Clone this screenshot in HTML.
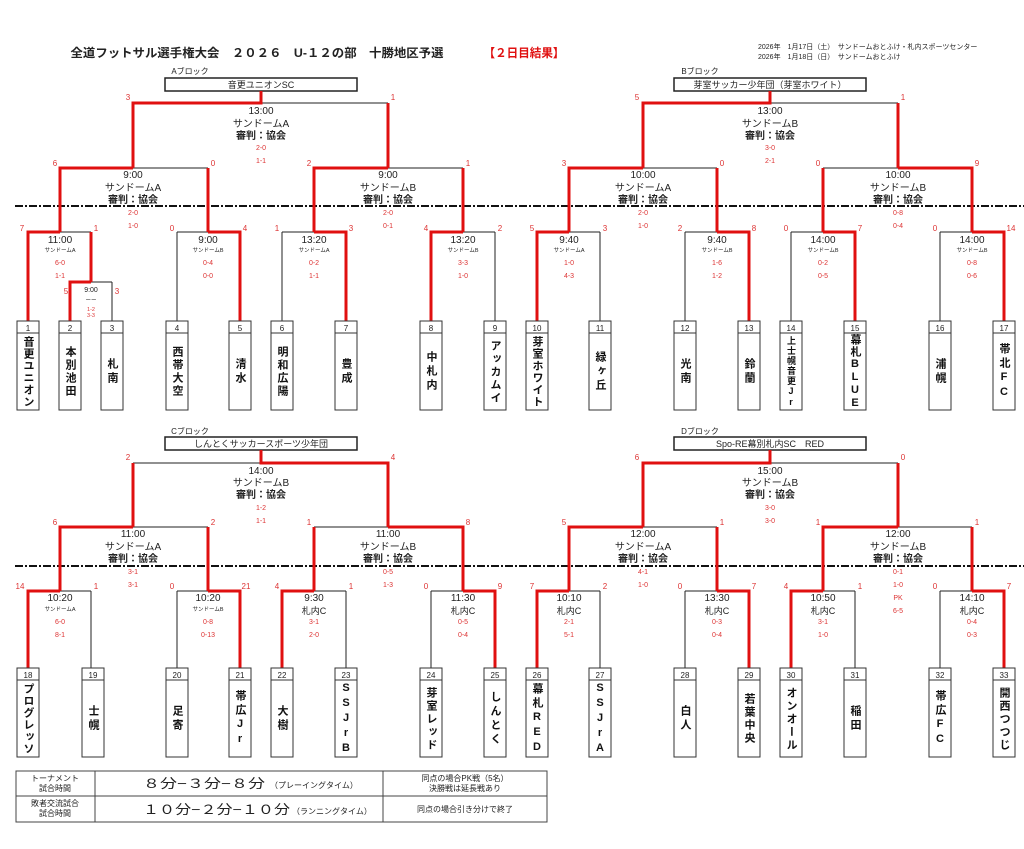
<!DOCTYPE html>
<html><head><meta charset="utf-8"><style>
body{margin:0;background:#fff;width:1024px;height:849px;overflow:hidden;position:relative;font-family:"Liberation Sans","Noto Sans CJK JP",sans-serif}
svg{position:absolute;left:0;top:0}
svg text{font-family:"Liberation Sans","Noto Sans CJK JP",sans-serif;text-anchor:middle;fill:#222}
.t{font-size:10px}
.j{font-size:10px;font-weight:bold}
.s{font-size:7px;fill:#d33 !important}
.l{font-size:8px;fill:#d33 !important}
.v{font-size:5.5px}
.c{font-size:9px}
.n{font-size:8px}
.k{stroke:#222;stroke-width:1;fill:none}
.r{stroke:#e01010;stroke-width:3;fill:none}
.nm{position:absolute;width:22px;height:76px;writing-mode:vertical-rl;text-orientation:upright;text-align:center;line-height:22px;font-size:11px;font-weight:bold;letter-spacing:3px;color:#111;font-family:"Liberation Sans","Noto Sans CJK JP",sans-serif}
</style></head><body>
<svg width="1024" height="849" viewBox="0 0 1024 849">
<text x="257" y="57" style="font-size:12px;font-weight:bold" textLength="373" lengthAdjust="spacingAndGlyphs">全道フットサル選手権大会　２０２６　U-１２の部　十勝地区予選</text>
<text x="524" y="57" style="font-size:12px;font-weight:bold;fill:#e01010" textLength="81" lengthAdjust="spacingAndGlyphs">【２日目結果】</text>
<text x="758" y="49" style="font-size:7px;text-anchor:start">2026年　1月17日（土）　サンドームおとふけ・札内スポーツセンター</text>
<text x="758" y="59" style="font-size:7px;text-anchor:start">2026年　1月18日（日）　サンドームおとふけ</text>

<line x1="15" y1="206" x2="1024" y2="206" stroke="#111" stroke-width="2" stroke-dasharray="8,2,2,2"/>
<line x1="15" y1="566" x2="1024" y2="566" stroke="#111" stroke-width="2" stroke-dasharray="8,2,2,2"/>

<!-- ===== Block A ===== -->
<text x="190" y="74" class="n">Aブロック</text>
<rect x="165" y="78" width="192" height="13" fill="none" stroke="#222" stroke-width="1.5"/>
<text x="261" y="88" class="c">音更ユニオンSC</text>
<path class="k" d="M133,103H388 M60,168H208 M314,168H463 M28,232H91 M177,232H240 M282,232H346 M431,232H495 M70,282H112 M112,282V321 M177,232V321 M282,232V321 M495,232V321"/>
<path class="r" d="M261,91V103H133V168 M388,103V168 M133,168H60V232 M208,168V232 M60,232H28V321 M91,232V282 M91,282H70V321 M208,232H240V321 M388,168H314V232 M463,168V232 M314,232H346V321 M463,232H431V321"/>
<text x="128" y="100" class="l">3</text><text x="393" y="100" class="l">1</text>
<text x="261" y="114" class="t">13:00</text><text x="261" y="127" class="t">サンドームA</text><text x="261" y="139" class="j">審判：協会</text><text x="261" y="150" class="s">2-0</text><text x="261" y="163" class="s">1-1</text>
<text x="55" y="166" class="l">6</text><text x="213" y="166" class="l">0</text><text x="309" y="166" class="l">2</text><text x="468" y="166" class="l">1</text>
<text x="133" y="178" class="t">9:00</text><text x="133" y="191" class="t">サンドームA</text><text x="133" y="203" class="j">審判：協会</text><text x="133" y="215" class="s">2-0</text><text x="133" y="228" class="s">1-0</text>
<text x="388" y="178" class="t">9:00</text><text x="388" y="191" class="t">サンドームB</text><text x="388" y="203" class="j">審判：協会</text><text x="388" y="215" class="s">2-0</text><text x="388" y="228" class="s">0-1</text>
<text x="22" y="231" class="l">7</text><text x="96" y="231" class="l">1</text><text x="172" y="231" class="l">0</text><text x="245" y="231" class="l">4</text><text x="277" y="231" class="l">1</text><text x="351" y="231" class="l">3</text><text x="426" y="231" class="l">4</text><text x="500" y="231" class="l">2</text>
<text x="60" y="243" class="t">11:00</text><text x="60" y="252" class="v">サンドームA</text><text x="60" y="265" class="s">6-0</text><text x="60" y="278" class="s">1-1</text>
<text x="208" y="243" class="t">9:00</text><text x="208" y="252" class="v">サンドームB</text><text x="208" y="265" class="s">0-4</text><text x="208" y="278" class="s">0-0</text>
<text x="314" y="243" class="t">13:20</text><text x="314" y="252" class="v">サンドームA</text><text x="314" y="265" class="s">0-2</text><text x="314" y="278" class="s">1-1</text>
<text x="463" y="243" class="t">13:20</text><text x="463" y="252" class="v">サンドームB</text><text x="463" y="265" class="s">3-3</text><text x="463" y="278" class="s">1-0</text>
<text x="66" y="294" class="l">5</text><text x="117" y="294" class="l">3</text>
<text x="91" y="292" style="font-size:7px">9:00</text><text x="91" y="302" class="v">ーー</text><text x="91" y="311" class="v" style="fill:#d33">1-2</text><text x="91" y="317" class="v" style="fill:#d33">3-3</text>

<!-- ===== Block B ===== -->
<text x="700" y="74" class="n">Bブロック</text>
<rect x="674" y="78" width="192" height="13" fill="none" stroke="#222" stroke-width="1.5"/>
<text x="770" y="88" class="c">芽室サッカー少年団（芽室ホワイト）</text>
<path class="k" d="M643,103H898 M569,168H717 M823,168H972 M537,232H600 M685,232H749 M791,232H855 M940,232H1004 M600,232V321 M685,232V321 M791,232V321 M940,232V321"/>
<path class="r" d="M770,91V103H643V168 M898,103V168 M643,168H569V232 M717,168V232 M569,232H537V321 M717,232H749V321 M898,168H972V232 M823,168V232 M823,232H855V321 M972,232H1004V321"/>
<text x="637" y="100" class="l">5</text><text x="903" y="100" class="l">1</text>
<text x="770" y="114" class="t">13:00</text><text x="770" y="127" class="t">サンドームB</text><text x="770" y="139" class="j">審判：協会</text><text x="770" y="150" class="s">3-0</text><text x="770" y="163" class="s">2-1</text>
<text x="564" y="166" class="l">3</text><text x="722" y="166" class="l">0</text><text x="818" y="166" class="l">0</text><text x="977" y="166" class="l">9</text>
<text x="643" y="178" class="t">10:00</text><text x="643" y="191" class="t">サンドームA</text><text x="643" y="203" class="j">審判：協会</text><text x="643" y="215" class="s">2-0</text><text x="643" y="228" class="s">1-0</text>
<text x="898" y="178" class="t">10:00</text><text x="898" y="191" class="t">サンドームB</text><text x="898" y="203" class="j">審判：協会</text><text x="898" y="215" class="s">0-8</text><text x="898" y="228" class="s">0-4</text>
<text x="532" y="231" class="l">5</text><text x="605" y="231" class="l">3</text><text x="680" y="231" class="l">2</text><text x="754" y="231" class="l">8</text><text x="786" y="231" class="l">0</text><text x="860" y="231" class="l">7</text><text x="935" y="231" class="l">0</text><text x="1011" y="231" class="l">14</text>
<text x="569" y="243" class="t">9:40</text><text x="569" y="252" class="v">サンドームA</text><text x="569" y="265" class="s">1-0</text><text x="569" y="278" class="s">4-3</text>
<text x="717" y="243" class="t">9:40</text><text x="717" y="252" class="v">サンドームB</text><text x="717" y="265" class="s">1-6</text><text x="717" y="278" class="s">1-2</text>
<text x="823" y="243" class="t">14:00</text><text x="823" y="252" class="v">サンドームB</text><text x="823" y="265" class="s">0-2</text><text x="823" y="278" class="s">0-5</text>
<text x="972" y="243" class="t">14:00</text><text x="972" y="252" class="v">サンドームB</text><text x="972" y="265" class="s">0-8</text><text x="972" y="278" class="s">0-6</text>

<!-- ===== Block C ===== -->
<text x="190" y="434" class="n">Cブロック</text>
<rect x="165" y="437" width="192" height="13" fill="none" stroke="#222" stroke-width="1.5"/>
<text x="261" y="447" class="c">しんとくサッカースポーツ少年団</text>
<path class="k" d="M133,463H388 M60,527H208 M314,527H463 M28,591H91 M177,591H240 M282,591H346 M431,591H495 M91,591V668 M177,591V668 M346,591V668 M431,591V668"/>
<path class="r" d="M261,450V463H388V527 M133,463V527 M133,527H60V591 M208,527V591 M60,591H28V668 M208,591H240V668 M388,527H463V591 M314,527V591 M314,591H282V668 M463,591H495V668"/>
<text x="128" y="460" class="l">2</text><text x="393" y="460" class="l">4</text>
<text x="261" y="474" class="t">14:00</text><text x="261" y="486" class="t">サンドームB</text><text x="261" y="498" class="j">審判：協会</text><text x="261" y="510" class="s">1-2</text><text x="261" y="523" class="s">1-1</text>
<text x="55" y="525" class="l">6</text><text x="213" y="525" class="l">2</text><text x="309" y="525" class="l">1</text><text x="468" y="525" class="l">8</text>
<text x="133" y="537" class="t">11:00</text><text x="133" y="550" class="t">サンドームA</text><text x="133" y="562" class="j">審判：協会</text><text x="133" y="574" class="s">3-1</text><text x="133" y="587" class="s">3-1</text>
<text x="388" y="537" class="t">11:00</text><text x="388" y="550" class="t">サンドームB</text><text x="388" y="562" class="j">審判：協会</text><text x="388" y="574" class="s">0-5</text><text x="388" y="587" class="s">1-3</text>
<text x="20" y="589" class="l">14</text><text x="96" y="589" class="l">1</text><text x="172" y="589" class="l">0</text><text x="246" y="589" class="l">21</text><text x="277" y="589" class="l">4</text><text x="351" y="589" class="l">1</text><text x="426" y="589" class="l">0</text><text x="500" y="589" class="l">9</text>
<text x="60" y="601" class="t">10:20</text><text x="60" y="611" class="v">サンドームA</text><text x="60" y="624" class="s">6-0</text><text x="60" y="637" class="s">8-1</text>
<text x="208" y="601" class="t">10:20</text><text x="208" y="611" class="v">サンドームB</text><text x="208" y="624" class="s">0-8</text><text x="208" y="637" class="s">0-13</text>
<text x="314" y="601" class="t">9:30</text><text x="314" y="614" class="c">札内C</text><text x="314" y="624" class="s">3-1</text><text x="314" y="637" class="s">2-0</text>
<text x="463" y="601" class="t">11:30</text><text x="463" y="614" class="c">札内C</text><text x="463" y="624" class="s">0-5</text><text x="463" y="637" class="s">0-4</text>

<!-- ===== Block D ===== -->
<text x="700" y="434" class="n">Dブロック</text>
<rect x="674" y="437" width="192" height="13" fill="none" stroke="#222" stroke-width="1.5"/>
<text x="770" y="447" class="c">Spo-RE幕別札内SC　RED</text>
<path class="k" d="M643,463H898 M569,527H717 M823,527H972 M537,591H600 M685,591H749 M791,591H855 M940,591H1004 M600,591V668 M685,591V668 M855,591V668 M940,591V668"/>
<path class="r" d="M770,450V463H643V527 M898,463V527 M643,527H569V591 M717,527V591 M569,591H537V668 M717,591H749V668 M898,527H823V591 M972,527V591 M823,591H791V668 M972,591H1004V668"/>
<text x="637" y="460" class="l">6</text><text x="903" y="460" class="l">0</text>
<text x="770" y="474" class="t">15:00</text><text x="770" y="486" class="t">サンドームB</text><text x="770" y="498" class="j">審判：協会</text><text x="770" y="510" class="s">3-0</text><text x="770" y="523" class="s">3-0</text>
<text x="564" y="525" class="l">5</text><text x="722" y="525" class="l">1</text><text x="818" y="525" class="l">1</text><text x="977" y="525" class="l">1</text>
<text x="643" y="537" class="t">12:00</text><text x="643" y="550" class="t">サンドームA</text><text x="643" y="562" class="j">審判：協会</text><text x="643" y="574" class="s">4-1</text><text x="643" y="587" class="s">1-0</text>
<text x="898" y="537" class="t">12:00</text><text x="898" y="550" class="t">サンドームB</text><text x="898" y="562" class="j">審判：協会</text><text x="898" y="574" class="s">0-1</text><text x="898" y="587" class="s">1-0</text><text x="898" y="600" class="s">PK</text><text x="898" y="613" class="s">6-5</text>
<text x="532" y="589" class="l">7</text><text x="605" y="589" class="l">2</text><text x="680" y="589" class="l">0</text><text x="754" y="589" class="l">7</text><text x="786" y="589" class="l">4</text><text x="860" y="589" class="l">1</text><text x="935" y="589" class="l">0</text><text x="1009" y="589" class="l">7</text>
<text x="569" y="601" class="t">10:10</text><text x="569" y="614" class="c">札内C</text><text x="569" y="624" class="s">2-1</text><text x="569" y="637" class="s">5-1</text>
<text x="717" y="601" class="t">13:30</text><text x="717" y="614" class="c">札内C</text><text x="717" y="624" class="s">0-3</text><text x="717" y="637" class="s">0-4</text>
<text x="823" y="601" class="t">10:50</text><text x="823" y="614" class="c">札内C</text><text x="823" y="624" class="s">3-1</text><text x="823" y="637" class="s">1-0</text>
<text x="972" y="601" class="t">14:10</text><text x="972" y="614" class="c">札内C</text><text x="972" y="624" class="s">0-4</text><text x="972" y="637" class="s">0-3</text>

<g fill="none" stroke="#333" stroke-width="1">
<rect x="17" y="321" width="22" height="89"/><rect x="59" y="321" width="22" height="89"/><rect x="101" y="321" width="22" height="89"/><rect x="166" y="321" width="22" height="89"/><rect x="229" y="321" width="22" height="89"/><rect x="271" y="321" width="22" height="89"/><rect x="335" y="321" width="22" height="89"/><rect x="420" y="321" width="22" height="89"/><rect x="484" y="321" width="22" height="89"/>
<rect x="526" y="321" width="22" height="89"/><rect x="589" y="321" width="22" height="89"/><rect x="674" y="321" width="22" height="89"/><rect x="738" y="321" width="22" height="89"/><rect x="780" y="321" width="22" height="89"/><rect x="844" y="321" width="22" height="89"/><rect x="929" y="321" width="22" height="89"/><rect x="993" y="321" width="22" height="89"/>
<path d="M17,333H39 M59,333H81 M101,333H123 M166,333H188 M229,333H251 M271,333H293 M335,333H357 M420,333H442 M484,333H506 M526,333H548 M589,333H611 M674,333H696 M738,333H760 M780,333H802 M844,333H866 M929,333H951 M993,333H1015"/>
<rect x="17" y="668" width="22" height="89"/><rect x="82" y="668" width="22" height="89"/><rect x="166" y="668" width="22" height="89"/><rect x="229" y="668" width="22" height="89"/><rect x="271" y="668" width="22" height="89"/><rect x="335" y="668" width="22" height="89"/><rect x="420" y="668" width="22" height="89"/><rect x="484" y="668" width="22" height="89"/><rect x="526" y="668" width="22" height="89"/>
<rect x="589" y="668" width="22" height="89"/><rect x="674" y="668" width="22" height="89"/><rect x="738" y="668" width="22" height="89"/><rect x="780" y="668" width="22" height="89"/><rect x="844" y="668" width="22" height="89"/><rect x="929" y="668" width="22" height="89"/><rect x="993" y="668" width="22" height="89"/>
<path d="M17,680H39 M82,680H104 M166,680H188 M229,680H251 M271,680H293 M335,680H357 M420,680H442 M484,680H506 M526,680H548 M589,680H611 M674,680H696 M738,680H760 M780,680H802 M844,680H866 M929,680H951 M993,680H1015"/>
</g>
<g class="n">
<text x="28" y="331" class="n">1</text><text x="70" y="331" class="n">2</text><text x="112" y="331" class="n">3</text><text x="177" y="331" class="n">4</text><text x="240" y="331" class="n">5</text><text x="282" y="331" class="n">6</text><text x="346" y="331" class="n">7</text><text x="431" y="331" class="n">8</text><text x="495" y="331" class="n">9</text>
<text x="537" y="331" class="n">10</text><text x="600" y="331" class="n">11</text><text x="685" y="331" class="n">12</text><text x="749" y="331" class="n">13</text><text x="791" y="331" class="n">14</text><text x="855" y="331" class="n">15</text><text x="940" y="331" class="n">16</text><text x="1004" y="331" class="n">17</text>
<text x="28" y="678" class="n">18</text><text x="93" y="678" class="n">19</text><text x="177" y="678" class="n">20</text><text x="240" y="678" class="n">21</text><text x="282" y="678" class="n">22</text><text x="346" y="678" class="n">23</text><text x="431" y="678" class="n">24</text><text x="495" y="678" class="n">25</text><text x="537" y="678" class="n">26</text>
<text x="600" y="678" class="n">27</text><text x="685" y="678" class="n">28</text><text x="749" y="678" class="n">29</text><text x="791" y="678" class="n">30</text><text x="855" y="678" class="n">31</text><text x="940" y="678" class="n">32</text><text x="1004" y="678" class="n">33</text>
</g>

<g fill="none" stroke="#444" stroke-width="1">
<rect x="16" y="771" width="531" height="51"/><path d="M16,796H547 M95,771V822 M383,771V822"/>
</g>
<text x="55" y="781" style="font-size:8px">トーナメント</text><text x="55" y="791" style="font-size:8px">試合時間</text>
<text x="55" y="806" style="font-size:8px">敗者交流試合</text><text x="55" y="816" style="font-size:8px">試合時間</text>
<text x="143" y="788" style="font-size:13px;text-anchor:start" textLength="122" lengthAdjust="spacingAndGlyphs">８分−３分−８分</text>
<text x="270" y="788" style="font-size:8px;text-anchor:start">（プレーイングタイム）</text>
<text x="143" y="814" style="font-size:13px;text-anchor:start" textLength="147" lengthAdjust="spacingAndGlyphs">１０分−２分−１０分</text>
<text x="292" y="814" style="font-size:8px;text-anchor:start">（ランニングタイム）</text>
<text x="465" y="781" style="font-size:8px">同点の場合PK戦（5名）</text><text x="465" y="791" style="font-size:8px">決勝戦は延長戦あり</text>
<text x="465" y="812" style="font-size:8px">同点の場合引き分けで終了</text>
</svg>

<div class="nm" style="left:17px;top:334px;letter-spacing:1px">音更ユニオン</div>
<div class="nm" style="left:59px;top:334px;letter-spacing:2px">本別池田</div>
<div class="nm" style="left:101px;top:334px">札南</div>
<div class="nm" style="left:166px;top:334px;letter-spacing:2px">西帯大空</div>
<div class="nm" style="left:229px;top:334px">清水</div>
<div class="nm" style="left:271px;top:334px;letter-spacing:2px">明和広陽</div>
<div class="nm" style="left:335px;top:334px">豊成</div>
<div class="nm" style="left:420px;top:334px">中札内</div>
<div class="nm" style="left:484px;top:334px;letter-spacing:2px">アッカムイ</div>
<div class="nm" style="left:526px;top:334px;letter-spacing:1px">芽室ホワイト</div>
<div class="nm" style="left:589px;top:334px">緑ヶ丘</div>
<div class="nm" style="left:674px;top:334px">光南</div>
<div class="nm" style="left:738px;top:334px">鈴蘭</div>
<div class="nm" style="left:780px;top:334px;font-size:9px;letter-spacing:1px">上士幌音更Jr</div>
<div class="nm" style="left:844px;top:334px;letter-spacing:1px">幕札BLUE</div>
<div class="nm" style="left:929px;top:334px">浦幌</div>
<div class="nm" style="left:993px;top:334px">帯北FC</div>

<div class="nm" style="left:17px;top:681px;letter-spacing:1px">プログレッソ</div>
<div class="nm" style="left:82px;top:681px">士幌</div>
<div class="nm" style="left:166px;top:681px">足寄</div>
<div class="nm" style="left:229px;top:681px">帯広Jr</div>
<div class="nm" style="left:271px;top:681px">大樹</div>
<div class="nm" style="left:335px;top:681px">SSJrB</div>
<div class="nm" style="left:420px;top:681px;letter-spacing:2px">芽室レッド</div>
<div class="nm" style="left:484px;top:681px">しんとく</div>
<div class="nm" style="left:526px;top:681px">幕札RED</div>
<div class="nm" style="left:589px;top:681px">SSJrA</div>
<div class="nm" style="left:674px;top:681px">白人</div>
<div class="nm" style="left:738px;top:681px;letter-spacing:2px">若葉中央</div>
<div class="nm" style="left:780px;top:681px;letter-spacing:2px">オンオール</div>
<div class="nm" style="left:844px;top:681px">稲田</div>
<div class="nm" style="left:929px;top:681px">帯広FC</div>
<div class="nm" style="left:993px;top:681px;letter-spacing:2px">開西つつじ</div>
</body></html>
